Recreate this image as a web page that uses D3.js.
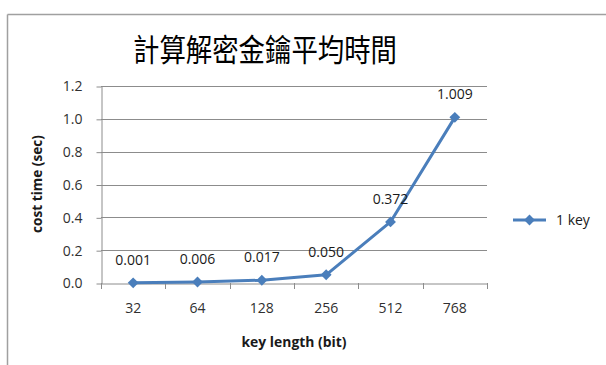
<!DOCTYPE html>
<html>
<head>
<meta charset="utf-8">
<script src="https://cdn.jsdelivr.net/npm/d3@7"></script>
<style>
  body { margin: 0; background: #fff; }
  text { font-family: "Open Sans", sans-serif; }
</style>
</head>
<body>
<svg id="chart" width="606" height="365"></svg>
<script>
// data
var keyLengths = ["32", "64", "128", "256", "512", "768"];
var costTimes = [0.001, 0.006, 0.017, 0.050, 0.372, 1.009];
var valueLabels = ["0.001", "0.006", "0.017", "0.050", "0.372", "1.009"];
var yTicks = [0, 0.2, 0.4, 0.6, 0.8, 1.0, 1.2];
var seriesName = "1 key";

var svg = d3.select("#chart");

// frame (top and left edges only show)
svg.append("line").attr("x1", 7.5).attr("x2", 606).attr("y1", 14.5).attr("y2", 14.5)
  .attr("stroke", "#a0a0a0").attr("stroke-width", 1.5);
svg.append("line").attr("x1", 7.5).attr("x2", 7.5).attr("y1", 14.5).attr("y2", 365)
  .attr("stroke", "#a0a0a0").attr("stroke-width", 1.5);

var x = d3.scaleBand().domain(keyLengths).range([101, 487]);
var y = d3.scaleLinear().domain([0, 1.2]).range([283, 86]);

// gridlines
svg.append("g").selectAll("line")
  .data(yTicks.slice(1))
  .enter().append("line")
  .attr("x1", 101).attr("x2", 487)
  .attr("y1", function(d) { return Math.round(y(d)) + 0.5; })
  .attr("y2", function(d) { return Math.round(y(d)) + 0.5; })
  .attr("stroke", "#8c8c8c");

// y axis
var yAxis = svg.append("g").attr("transform", "translate(101.5,0.5)")
  .call(d3.axisLeft(y).tickValues(yTicks).tickFormat(d3.format(".1f")).tickSize(5).tickSizeOuter(0));
yAxis.select(".domain").attr("stroke", "#8c8c8c");
yAxis.selectAll(".tick line").attr("stroke", "#8c8c8c");
yAxis.selectAll(".tick text").attr("x", -19).attr("fill", "#303030")
  .style("font-size", "14px").style("font-family", "'Open Sans', sans-serif");

// x axis
var xAxis = svg.append("g").attr("transform", "translate(0,283.5)")
  .call(d3.axisBottom(x).tickSize(0));
xAxis.select(".domain").attr("stroke", "#8c8c8c");
xAxis.selectAll(".tick text").attr("y", 20).attr("fill", "#303030")
  .style("font-size", "14px").style("font-family", "'Open Sans', sans-serif");
// boundary tick marks between categories
svg.append("g").selectAll("line")
  .data(keyLengths.concat(["end"]))
  .enter().append("line")
  .attr("x1", function(d, i) { return Math.round(101 + i * x.bandwidth()) + 0.5; })
  .attr("x2", function(d, i) { return Math.round(101 + i * x.bandwidth()) + 0.5; })
  .attr("y1", 283).attr("y2", 289)
  .attr("stroke", "#8c8c8c");

// axis titles
svg.append("text").attr("x", 294).attr("y", 347).attr("text-anchor", "middle")
  .attr("textLength", 105).attr("lengthAdjust", "spacingAndGlyphs")
  .attr("fill", "#1a1a1a").style("font-size", "14px").style("font-weight", "bold")
  .text("key length (bit)");
svg.append("text").attr("transform", "translate(42,184) rotate(-90)").attr("text-anchor", "middle")
  .attr("textLength", 98).attr("lengthAdjust", "spacingAndGlyphs")
  .attr("fill", "#1a1a1a").style("font-size", "14px").style("font-weight", "bold")
  .text("cost time (sec)");

// title
svg.append("text").attr("x", 265).attr("y", 61).attr("text-anchor", "middle")
  .attr("textLength", 264).attr("lengthAdjust", "spacingAndGlyphs")
  .attr("fill", "#000").style("font-size", "31px")
  .style("font-family", "'Noto Sans CJK TC', sans-serif")
  .text("計算解密金鑰平均時間");

// series
var pts = keyLengths.map(function(k, i) {
  return { k: k, v: costTimes[i], label: valueLabels[i] };
});
var cx = function(d) { return x(d.k) + x.bandwidth() / 2; };

svg.append("path").datum(pts)
  .attr("d", d3.line().x(cx).y(function(d) { return y(d.v); }))
  .attr("fill", "none").attr("stroke", "#4a7ebb").attr("stroke-width", 3)
  .attr("stroke-linejoin", "round");

var diamond = d3.symbol().type(d3.symbolDiamond2).size(75);
svg.append("g").selectAll("path")
  .data(pts)
  .enter().append("path")
  .attr("d", diamond)
  .attr("transform", function(d) { return "translate(" + cx(d) + "," + y(d.v) + ")"; })
  .attr("fill", "#4a7ebb");

svg.append("g").selectAll("text")
  .data(pts)
  .enter().append("text")
  .attr("x", cx)
  .attr("y", function(d) { return y(d.v) - 18; })
  .attr("text-anchor", "middle")
  .attr("fill", "#1a1a1a").style("font-size", "14px")
  .text(function(d) { return d.label; });

// legend
var lg = svg.append("g").attr("transform", "translate(513,220)");
lg.append("line").attr("x1", 0).attr("x2", 33).attr("y1", 0).attr("y2", 0)
  .attr("stroke", "#4a7ebb").attr("stroke-width", 3);
lg.append("path").attr("d", diamond).attr("transform", "translate(16.5,0)").attr("fill", "#4a7ebb");
lg.append("text").attr("x", 43).attr("y", 5).attr("fill", "#1a1a1a")
  .style("font-size", "14px").text(seriesName);
</script>
</body>
</html>
